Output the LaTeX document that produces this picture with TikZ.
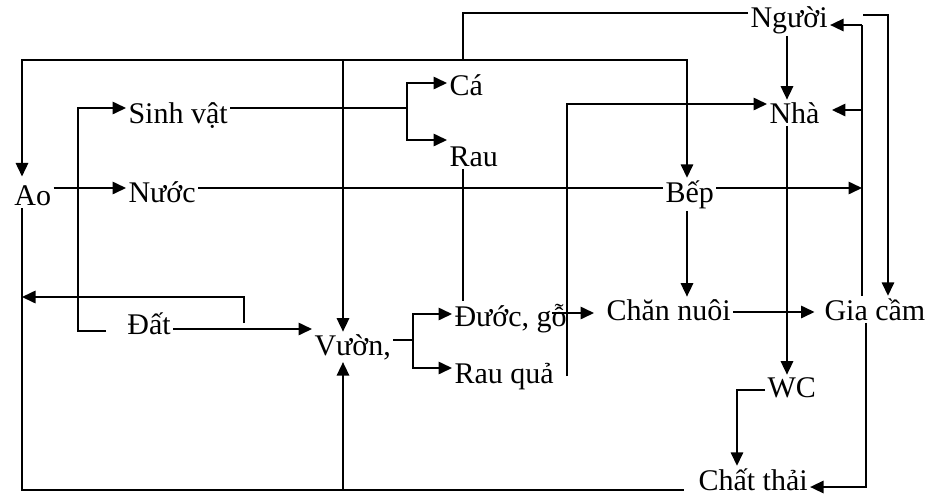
\documentclass[tikz,border=0pt]{standalone}
\usepackage{fontspec}
\setmainfont{Liberation Serif}
\usetikzlibrary{arrows.meta}

\begin{document}
\begin{tikzpicture}[
  x=0.4pt, y=-0.4pt,
  lbl/.style={inner sep=0pt, outer sep=1pt, anchor=base west,
              font=\fontsize{12}{14}\selectfont},
  wire/.style={line width=0.65pt, black},
  flow/.style={wire, -{Triangle[length=5.4pt,width=5pt]}}
]
\useasboundingbox (0,0) rectangle (929,495);

%% ---------- LABELS ----------
\node[lbl] (nguoi)    at (748,27)  {Người};
\node[lbl] (nha)      at (767,123) {Nhà};
\node[lbl] (bep)      at (663,202) {Bếp};
\node[lbl] (ao)       at (12,205)  {Ao};
\node[lbl] (sinhvat)  at (126,123) {Sinh vật};
\node[lbl] (nuoc)     at (126,202) {Nước};
\node[lbl] (ca)       at (447,95)  {Cá};
\node[lbl] (rau)      at (447,166) {Rau};
\node[lbl] (dat)      at (125,334) {Đất};
\node[lbl] (vuon)     at (312,355) {Vườn,};
\node[lbl] (duoc)     at (452,326) {Đước, gỗ};
\node[lbl] (rauqua)   at (452,383) {Rau quả};
\node[lbl] (channuoi) at (604,320) {Chăn nuôi};
\node[lbl] (giacam)   at (822,320) {Gia cầm};
\node[lbl] (wc)       at (765,397) {WC};
\node[lbl] (chatthai) at (696,490) {Chất thải};

%% ---------- JUNCTIONS ----------
\coordinate (hub)   at (463,60);
\coordinate (sfork) at (407,108);
\coordinate (dfork) at (244,323);
\coordinate (vfork) at (413,340);
\coordinate (ntap)  at (863,15);
\coordinate (vtap)  at (343,490);

%% ---------- NGUOI -> AO, VUON, BEP ----------
\draw[wire] (nguoi.west |- 0,13) -| (hub);
\draw[flow, shorten >=2.5pt] (hub) -| (ao.north -| 22,0);
\draw[flow] (hub) -| (vuon.north -| 343,0);
\draw[flow] (hub) -| (bep.north -| 687,0);

%% ---------- AO / DAT -> SINH VAT -> CA, RAU ----------
\draw[flow] (dat.west |- 0,331) ++(-19,0) -| (78,108) -- (sinhvat.west |- 0,108);
\draw[wire] (sinhvat.east |- 0,108) -- (sfork);
\draw[flow] (sfork) |- (ca.west |- 0,83);
\draw[flow] (sfork) |- (rau.west |- 0,140);
\draw[wire] (rau.south -| 463,0) -- (duoc.north -| 463,0);

%% ---------- NUOC ----------
\draw[flow] (ao.east |- 0,188) -- (nuoc.west |- 0,188);
\draw[wire] (nuoc.east |- 0,188) -- (bep.west |- 0,188);
\draw[flow] (bep.east |- 0,188) -- (862,188);

%% ---------- GIA CAM -> NGUOI, NHA ----------
\draw[wire] (giacam.north -| 862,0) -- (862,25);
\draw[flow] (862,25) -- (nguoi.east |- 0,25);
\draw[flow, shorten >=4pt] (862,110) -- (nha.east |- 0,110);
\draw[flow] (ntap) -| (giacam.north -| 888,0);

%% ---------- NGUOI -> NHA -> WC ----------
\draw[flow] (nguoi.south -| 787,0) -- (nha.north -| 787,0);
\draw[flow] (nha.south -| 787,0) -- (wc.north -| 787,0);
\draw[flow] (rauqua.east) ++(11,0) |- (nha.west |- 0,104);

%% ---------- DAT -> AO, VUON ----------
\draw[flow] (dfork) |- (22,297);
\draw[flow] (dat.east |- 0,329) -- (vuon.west |- 0,329);

%% ---------- VUON -> DUOC, RAU QUA ----------
\draw[wire] (vuon.east |- 0,340) -- (vfork);
\draw[flow] (vfork) |- (duoc.west |- 0,314);
\draw[flow] (vfork) |- (rauqua.west |- 0,368);

%% ---------- CHAN NUOI, GIA CAM ----------
\draw[flow, shorten <=-7pt, shorten >=4pt] (duoc.east |- 0,313) -- (channuoi.west |- 0,313);
\draw[flow] (bep.south -| 687,0) -- (channuoi.north -| 687,0);
\draw[flow, shorten >=3pt] (channuoi.east |- 0,312) -- (giacam.west |- 0,312);

%% ---------- CHAT THAI ----------
\draw[flow] (giacam.south -| 866,0) |- (chatthai.east |- 0,487);
\draw[flow] (wc.west |- 0,390) -| (chatthai.north -| 737,0);
\draw[wire, shorten <=5pt] (chatthai.west |- 0,490) -- (22,490) -- (ao.south -| 22,0);
\draw[flow] (vtap) -- (vuon.south -| 343,0);

\end{tikzpicture}
\end{document}
